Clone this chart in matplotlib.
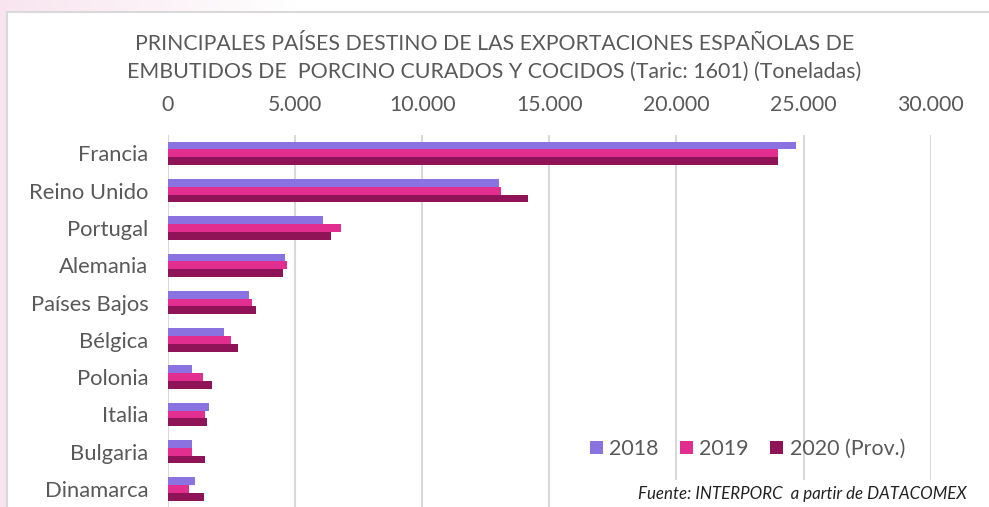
import numpy as np
import matplotlib
matplotlib.use("Agg")
import matplotlib.pyplot as plt
from matplotlib.ticker import FuncFormatter, MultipleLocator
from matplotlib.patches import Patch, Rectangle

paises = ["Francia", "Reino Unido", "Portugal", "Alemania", "Países Bajos",
          "Bélgica", "Polonia", "Italia", "Bulgaria", "Dinamarca"]

# toneladas por año
t2018 = [24700, 13000, 6100, 4620, 3180, 2200, 930, 1610, 930, 1060]
t2019 = [24000, 13080, 6820, 4700, 3300, 2490, 1390, 1440, 930, 840]
t2020 = [24000, 14170, 6400, 4530, 3450, 2760, 1740, 1520, 1470, 1400]

series = [("2018", t2018, "#8A73E0"),
          ("2019", t2019, "#E22E8E"),
          ("2020 (Prov.)", t2020, "#8F1457")]

TXT = "#595959"
plt.rcParams["font.family"] = ["Lato", "DejaVu Sans"]

W, H = 989, 507
fig = plt.figure(figsize=(W / 100, H / 100), dpi=100)
fig.patch.set_facecolor("white")

# fondo rosado fuera del marco
bg = fig.add_axes([0, 0, 1, 1], zorder=-10)
bg.set_axis_off()
xs = np.linspace(0, 1, 200)
fade = np.clip(1 - xs / 0.3, 0, 1)
grad = np.ones((10, 200, 4))
grad[..., 0] = 0.97
grad[..., 1] = 0.89
grad[..., 2] = 0.93
grad[..., 3] = fade[None, :] * 0.9
bg.imshow(grad, extent=[0, 1, 1 - 12 / H, 1], aspect="auto", transform=bg.transAxes)
bg.add_patch(Rectangle((0, 0), 7 / W, 1, transform=bg.transAxes,
                       facecolor="#F7E4EE", edgecolor="none"))
bg.add_patch(Rectangle((7 / W, -0.1), 1.2, 1 - 12 / H + 0.1, transform=bg.transAxes,
                       facecolor="white", edgecolor="#D9D9D9", linewidth=1.5))
bg.set_xlim(0, 1)
bg.set_ylim(0, 1)

ax = fig.add_axes([168 / W, (H - 507.7) / H, 762.7 / W, 373 / H])
ax.set_facecolor("none")

y = np.arange(len(paises))
h = 0.21
for i, (nombre, vals, col) in enumerate(series):
    ax.barh(y + (i - 1) * h, vals, height=h, color=col, label=nombre, zorder=3)

ax.set_xlim(0, 30000)
ax.set_ylim(len(paises) - 0.5, -0.5)
ax.xaxis.set_major_locator(MultipleLocator(5000))
ax.xaxis.set_major_formatter(FuncFormatter(lambda v, p: f"{v:,.0f}".replace(",", ".")))
ax.xaxis.tick_top()
ax.tick_params(axis="x", length=0, pad=14, labelsize=15.3, labelcolor=TXT)
ax.set_yticks(y)
ax.set_yticklabels(paises)
ax.tick_params(axis="y", length=0, pad=14, labelsize=15.8, labelcolor=TXT)
ax.grid(axis="x", color="#D9D9D9", linewidth=1.5, zorder=0)
for s in ax.spines.values():
    s.set_visible(False)

handles = [Patch(facecolor=c, edgecolor="none", label=n) for n, _, c in series]
ax.legend(handles=handles, loc="center left", bbox_to_anchor=(590 / W, 1 - 449 / H),
          bbox_transform=fig.transFigure, ncol=3, frameon=False, fontsize=15.4,
          labelcolor=TXT, handlelength=0.6, handleheight=0.6, handletextpad=0.3,
          columnspacing=1.0, borderpad=0, borderaxespad=0)

fig.text(0.5, 1 - 44 / H, "PRINCIPALES PAÍSES DESTINO DE LAS EXPORTACIONES ESPAÑOLAS DE",
         ha="center", va="center", fontsize=15.3, color=TXT)
fig.text(0.5, 1 - 72 / H, "EMBUTIDOS DE  PORCINO CURADOS Y COCIDOS (Taric: 1601) (Toneladas)",
         ha="center", va="center", fontsize=15.4, color=TXT)

fig.text(967 / W, 1 - 494 / H, "Fuente: INTERPORC  a partir de DATACOMEX",
         ha="right", va="center", fontsize=12.2, style="italic", color="#222222",
         bbox=dict(facecolor="white", edgecolor="none", pad=4))

fig.savefig("out.png", dpi=100)
